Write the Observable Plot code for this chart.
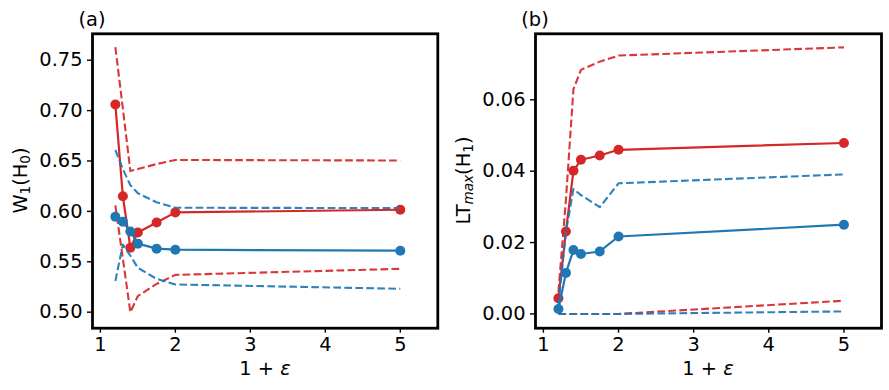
<!DOCTYPE html>
<html>
<head>
<meta charset="utf-8">
<script src="https://cdn.jsdelivr.net/npm/d3@7"></script>
<script src="https://cdn.jsdelivr.net/npm/@observablehq/plot@0.6"></script>
<style>
  html, body { margin: 0; padding: 0; background: white; }
  #wrap { position: relative; width: 889px; height: 390px; background: white; }
  #wrap > div { position: absolute; top: 0; }
  svg text { font-family: "DejaVu Sans", sans-serif; }
</style>
</head>
<body>
<div id="wrap"><div id="pa" style="left:0px"></div><div id="pb" style="left:445px"></div></div>
<script>
// ---- data ----
const eps = [1.2, 1.3, 1.4, 1.5, 1.75, 2, 5];
const xTicks = [1, 2, 3, 4, 5];

// panel (a): W1(H0)
const wRedMean  = [0.706, 0.615, 0.564, 0.579, 0.589, 0.599, 0.6016];
const wRedUp    = [0.763, 0.702, 0.640, 0.642, 0.647, 0.651, 0.6505];
const wRedLo    = [0.606, 0.553, 0.500, 0.516, 0.528, 0.537, 0.543];
const wBlueMean = [0.5946, 0.5897, 0.580, 0.568, 0.563, 0.562, 0.561];
const wBlueUp   = [0.661, 0.642, 0.626, 0.618, 0.609, 0.6036, 0.6033];
const wBlueLo   = [0.531, 0.567, 0.556, 0.544, 0.533, 0.5275, 0.5232];
const wTicks    = [0.50, 0.55, 0.60, 0.65, 0.70, 0.75];

// panel (b): LTmax(H1)
const lRedMean  = [0.0044, 0.0231, 0.0401, 0.0432, 0.0444, 0.0460, 0.0479];
const lRedUp    = [0.0062, 0.032, 0.063, 0.0684, 0.0707, 0.0724, 0.0747];
const lRedLo    = [0, 0, 0, 0, 0, 0, 0.0037];
const lBlueMean = [0.0014, 0.0115, 0.0179, 0.0168, 0.0175, 0.0217, 0.0250];
const lBlueUp   = [0.0025, 0.023, 0.0350, 0.0333, 0.0299, 0.0366, 0.0391];
const lBlueLo   = [0, 0, 0, 0, 0, 0, 0.0007];
const lTicks    = [0.00, 0.02, 0.04, 0.06];

const RED = "#d62728", BLUE = "#1f77b4";
const FS = 19.4;

function rows(vals) { return eps.map((x, i) => ({x, y: vals[i]})); }

function seriesMarks(mean, up, lo, color) {
  const dash = {x: "x", y: "y", stroke: color, strokeWidth: 2.1, strokeDasharray: "7.7,3.3",
                strokeLinecap: "butt", strokeOpacity: 0.92};
  return [
    Plot.line(rows(mean), {x: "x", y: "y", stroke: color, strokeWidth: 2.2}),
    Plot.dot(rows(mean), {x: "x", y: "y", fill: color, r: 5}),
    Plot.line(rows(up), dash),
    Plot.line(rows(lo), dash)
  ];
}

function panel({width, marginLeft, marginRight, yDomain, yTicks, red, blue}) {
  return Plot.plot({
    width, height: 390,
    marginLeft, marginRight, marginTop: 33.3, marginBottom: 62.3,
    style: {fontFamily: "DejaVu Sans", fontSize: FS + "px", background: "white", color: "black"},
    x: {domain: [0.895, 5.5]},
    y: {domain: yDomain},
    marks: [
      Plot.axisX({ticks: xTicks, tickFormat: d3.format("d"), tickSize: 5, tickPadding: 4.5,
                  strokeWidth: 1.4, label: null, fontSize: FS}),
      Plot.axisY({ticks: yTicks, tickFormat: d3.format(".2f"), tickSize: 5, tickPadding: 5,
                  strokeWidth: 1.4, label: null, fontSize: FS}),
      ...seriesMarks(...red, RED),
      ...seriesMarks(...blue, BLUE),
      Plot.frame({stroke: "black", strokeWidth: 2.8})
    ]
  });
}

const A = panel({width: 445, marginLeft: 92, marginRight: 7.7, yDomain: [0.4841, 0.7762], yTicks: wTicks,
                 red: [wRedMean, wRedUp, wRedLo], blue: [wBlueMean, wBlueUp, wBlueLo]});
const B = panel({width: 444, marginLeft: 90, marginRight: 8, yDomain: [-0.0040, 0.0785], yTicks: lTicks,
                 red: [lRedMean, lRedUp, lRedLo], blue: [lBlueMean, lBlueUp, lBlueLo]});
document.getElementById("pa").appendChild(A);
document.getElementById("pb").appendChild(B);

// ---- labels (real text) ----
function addLabels(svg, {title, titleX, xLabelX, yLabelX, yParts}) {
  const s = d3.select(svg);
  s.append("text").attr("x", titleX).attr("y", 26).attr("font-size", FS).attr("fill", "black").text(title);
  const xl = s.append("text").attr("x", xLabelX).attr("y", 375).attr("text-anchor", "middle")
    .attr("font-size", FS).attr("fill", "black");
  xl.append("tspan").text("1 + ");
  xl.append("tspan").attr("font-style", "italic").text("ε");
  const yl = s.append("text").attr("transform", `translate(${yLabelX},180.5) rotate(-90)`)
    .attr("text-anchor", "middle").attr("font-size", FS).attr("fill", "black");
  let shifted = 0;
  for (const p of yParts) {
    const t = yl.append("tspan").text(p.t);
    if (p.sub) {
      t.attr("font-size", FS * 0.7).attr("dy", 3.2 - shifted);
      shifted = 3.2;
      if (p.italic) t.attr("font-style", "italic");
    } else {
      if (shifted) t.attr("dy", -shifted);
      shifted = 0;
    }
  }
}
addLabels(A, {title: "(a)", titleX: 92, xLabelX: 265, yLabelX: 27,
  yParts: [{t: "W"}, {t: "1", sub: true}, {t: "(H"}, {t: "0", sub: true}, {t: ")"}]});
addLabels(B, {title: "(b)", titleX: 90, xLabelX: 263, yLabelX: 25,
  yParts: [{t: "LT"}, {t: "max", sub: true, italic: true}, {t: "(H"}, {t: "1", sub: true}, {t: ")"}]});
</script>
</body>
</html>
